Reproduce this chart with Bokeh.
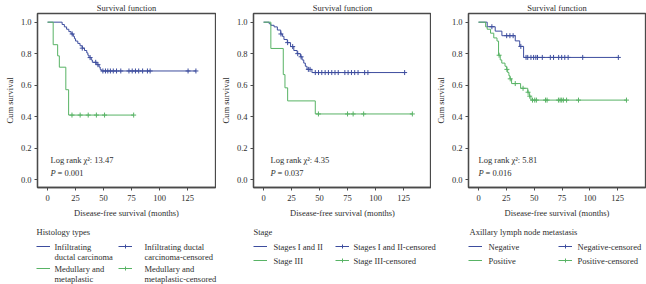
import numpy as np
from bokeh.plotting import figure
from bokeh.layouts import row, column
from bokeh.models import (Range1d, Label, Legend, LegendItem, FixedTicker,
                          PrintfTickFormatter)
from bokeh.embed import file_html
from bokeh.resources import INLINE

# ---------------- data ----------------
x_ticks = [0, 25, 50, 75, 100, 125]
y_ticks = [0.0, 0.2, 0.4, 0.6, 0.8, 1.0]
x_title = "Disease-free survival (months)"
y_title = "Cum survival"
chart_title = "Survival function"

# Panel 1: histology types
idc_t = [0, 13, 15, 17, 19, 21, 23, 24, 25, 27, 29, 31, 33, 35, 36, 37, 39, 40, 44, 46, 47, 48]
idc_s = [1.0, 0.985, 0.97, 0.955, 0.94, 0.925, 0.91, 0.895, 0.88, 0.865, 0.85, 0.835, 0.82,
         0.805, 0.79, 0.775, 0.76, 0.745, 0.73, 0.715, 0.70, 0.69]
idc_cens = [22, 31, 38, 43, 45, 49.4, 51.7, 53.8, 56.1, 58.7, 61.6, 65.4, 72.7, 75.6, 78.5,
            81.4, 84.9, 89.2, 91.6, 125.5, 132.5]
idc_end = 132.5
med_t = [0, 5, 9, 10.5, 16.3, 18.8]
med_s = [1.0, 0.857, 0.786, 0.714, 0.571, 0.41]
med_cens = [21.8, 29.1, 36.3, 43.6, 50.9, 76.9]
med_end = 76.9
hist_chi = "13.47"
hist_p = "0.001"
hist_title = "Histology types"
hist_labels = [["Infiltrating", "ductal carcinoma"], ["Medullary and", "metaplastic"],
               ["Infiltrating ductal", "carcinoma-censored"], ["Medullary and", "metaplastic-censored"]]

# Panel 2: stage
st12_t = [0, 5, 6.5, 9.4, 12.3, 15.3, 16.8, 18.2, 21.2, 24.1, 27, 30, 32.9, 34.4, 35.9, 37.3, 38.8, 43.2]
st12_s = [1.0, 0.99, 0.98, 0.97, 0.95, 0.925, 0.91, 0.89, 0.87, 0.845, 0.82, 0.80, 0.78, 0.76,
          0.74, 0.72, 0.70, 0.68]
st12_cens = [15.5, 21.5, 26, 30.5, 33.5, 40, 41.5, 46.2, 49.1, 52, 55, 57.9, 60.9, 63.8, 66.7,
             72.6, 75.5, 78.5, 81.4, 84.4, 90.3, 93.2, 126]
st12_end = 126
st3_t = [0, 6.5, 17.6, 19.1, 21.5, 46.2]
st3_s = [1.0, 0.833, 0.667, 0.583, 0.5, 0.417]
st3_cens = [49, 75, 80, 89.4, 132.9]
st3_end = 132.9
stage_chi = "4.35"
stage_p = "0.037"
stage_title = "Stage"
stage_labels = [["Stages I and II"], ["Stage III"], ["Stages I and II-censored"], ["Stage III-censored"]]

# Panel 3: axillary lymph node metastasis
neg_t = [0, 7.8, 15, 21, 33, 37, 40.5]
neg_s = [1.0, 0.971, 0.943, 0.914, 0.881, 0.846, 0.776]
neg_cens = [12, 25.3, 28.2, 31.1, 38, 42.7, 44.2, 47.1, 49.5, 51.5, 53, 57.3, 64.5, 67.4, 72,
            74.7, 77.5, 80.5, 93.6, 125.6]
neg_end = 125.6
pos_t = [0, 6.4, 7.8, 10.8, 13.7, 16.6, 18, 19.5, 20.9, 23.8, 25.3, 26.2, 27.3, 28.2, 29.7,
         37.8, 44.2, 45.6, 47.1]
pos_s = [1.0, 0.97, 0.955, 0.93, 0.90, 0.88, 0.79, 0.76, 0.74, 0.72, 0.70, 0.68, 0.66, 0.64,
         0.61, 0.58, 0.555, 0.53, 0.505]
pos_cens = [18.5, 25.5, 28.5, 33, 40, 44.5, 46, 48.5, 50.5, 52, 60.2, 61.6, 71.8, 73.3, 74.7,
            76.2, 79.1, 89.8, 132.9]
pos_end = 132.9
ln_chi = "5.81"
ln_p = "0.016"
ln_title = "Axillary lymph node metastasis"
ln_labels = [["Negative"], ["Positive"], ["Negative-censored"], ["Positive-censored"]]

# ---------------- style ----------------
FONT = "Liberation Serif"
FS = "8.5px"
TXT = "#2e2e2e"
BLUE = "#3d4d9e"
GREEN = "#58b365"
FRAME = "#4a4a4a"
W = 646
H = 284
CH = 222   # chart figure height
LH = H - CH  # legend strip height
FT = 12    # frame top
FB = 187   # frame bottom (canvas y)
LINE2 = 10  # distance to second line of a wrapped legend label


def s_at(t, s, times):
    t = np.asarray(t, float)
    s = np.asarray(s, float)
    idx = np.searchsorted(t, np.asarray(times, float), side="right") - 1
    return s[idx]


def lab(p, x, y, text, style="normal"):
    p.add_layout(Label(x=x, y=y, x_units="screen", y_units="screen", text=text,
                       text_font=FONT, text_font_size=FS, text_color=TXT,
                       text_align="left", text_baseline="middle", text_font_style=style))


def series(p, curves, visible=True):
    steps, marks = [], []
    for (t, s, cens, end, col) in curves:
        xs = list(t) + [end]
        ys = list(s) + [s[-1]]
        r = p.step(xs, ys, mode="after", line_color=col, line_width=1, visible=visible)
        m = p.scatter(cens, s_at(t, s, cens), marker="cross", size=5, line_color=col,
                      line_width=1, visible=visible)
        steps.append(r)
        marks.append(m)
    return steps, marks


def chart(width, fw, curves, chi, pval, stat_x):
    p = figure(width=width, height=CH, x_range=Range1d(-9, 150), y_range=Range1d(-0.05, 1.055),
               min_border_left=37, min_border_right=width - 37 - fw, min_border_top=FT,
               min_border_bottom=CH - FB, output_backend="svg", toolbar_location=None)
    p.background_fill_color = "white"
    p.border_fill_color = "white"
    p.grid.visible = False
    p.outline_line_color = FRAME
    p.outline_line_width = 1.3
    p.title.text = chart_title
    p.title.align = "center"
    p.title.text_font = FONT
    p.title.text_font_size = FS
    p.title.text_font_style = "normal"
    p.title.text_color = TXT
    p.title.standoff = 1
    p.title.offset = 0
    for ax in (p.xaxis[0], p.yaxis[0]):
        ax.axis_line_color = FRAME
        ax.axis_line_width = 1.3
        ax.major_tick_line_color = FRAME
        ax.major_tick_in = 0
        ax.major_tick_out = 3
        ax.minor_tick_line_color = None
        ax.major_label_text_font = FONT
        ax.major_label_text_font_size = FS
        ax.major_label_text_color = TXT
        ax.axis_label_text_font = FONT
        ax.axis_label_text_font_size = FS
        ax.axis_label_text_color = TXT
        ax.axis_label_text_font_style = "normal"
    p.xaxis.ticker = FixedTicker(ticks=x_ticks)
    p.yaxis.ticker = FixedTicker(ticks=y_ticks)
    p.yaxis.formatter = PrintfTickFormatter(format="%.1f")
    p.xaxis.axis_label = x_title
    p.yaxis.axis_label = y_title
    p.xaxis.major_label_standoff = 4
    p.xaxis.axis_label_standoff = 4
    p.yaxis.major_label_standoff = 3
    p.yaxis.axis_label_standoff = 3
    series(p, curves)
    lab(p, stat_x, FB - 159, "Log rank \u03c7\u00b2: " + chi)
    lab(p, stat_x, FB - 172, "P", style="italic")
    lab(p, stat_x + 7, FB - 172, "= " + pval)
    return p


def legend_block(q, curves, ltitle, labels, lay):
    steps, marks = series(q, curves, visible=False)
    tx, c1_icon, c1_text, c2_icon, c2_text, r1, r2 = lay

    def Y(cy):
        return H - cy

    lab(q, tx, Y(231.5), ltitle)
    gap = int(round(r2 - r1 - 10))
    for icon_x, rends in ((c1_icon, [[steps[0]], [steps[1]]]),
                          (c2_icon, [[steps[0], marks[0]], [steps[1], marks[1]]])):
        leg = Legend(items=[LegendItem(label=" ", renderers=rr) for rr in rends],
                     location=(icon_x, int(round(Y(r2 + 5)))), orientation="vertical",
                     glyph_width=14, glyph_height=10, label_height=10, label_width=0,
                     label_standoff=0, spacing=gap, padding=0, margin=0,
                     border_line_color=None, background_fill_alpha=0,
                     inactive_fill_alpha=0, click_policy="none",
                     label_text_font_size=FS)
        q.add_layout(leg)
    for (xx, lines, ry) in ((c1_text, labels[0], r1), (c1_text, labels[1], r2),
                            (c2_text, labels[2], r1), (c2_text, labels[3], r2)):
        for k, line in enumerate(lines):
            lab(q, xx, Y(ry + LINE2 * k), line)


c1 = [(idc_t, idc_s, idc_cens, idc_end, BLUE), (med_t, med_s, med_cens, med_end, GREEN)]
c2 = [(st12_t, st12_s, st12_cens, st12_end, BLUE), (st3_t, st3_s, st3_cens, st3_end, GREEN)]
c3 = [(neg_t, neg_s, neg_cens, neg_end, BLUE), (pos_t, pos_s, pos_cens, pos_end, GREEN)]

p1 = chart(216, 178, c1, hist_chi, hist_p, 13)
p2 = chart(215, 178, c2, stage_chi, stage_p, 17)
p3 = chart(215, 177, c3, ln_chi, ln_p, 10)

strip = figure(frame_width=W, frame_height=LH, x_range=Range1d(-9, 150),
               y_range=Range1d(-0.05, 1.055), min_border_left=0, min_border_right=0,
               min_border_top=0, min_border_bottom=0, x_axis_type=None, y_axis_type=None,
               output_backend="svg", toolbar_location=None)
strip.grid.visible = False
strip.outline_line_color = None
strip.background_fill_color = "white"
strip.border_fill_color = "white"
legend_block(strip, c1, hist_title, hist_labels, (36, 36, 54, 118, 144, 246, 268))
legend_block(strip, c2, stage_title, stage_labels, (253, 253, 273, 335, 353, 246, 260))
legend_block(strip, c3, ln_title, ln_labels, (469, 468, 488, 558, 577, 246, 260))

layout = column(row(p1, p2, p3, spacing=0), strip, spacing=0)
open("out.html", "w").write(file_html(layout, INLINE))
